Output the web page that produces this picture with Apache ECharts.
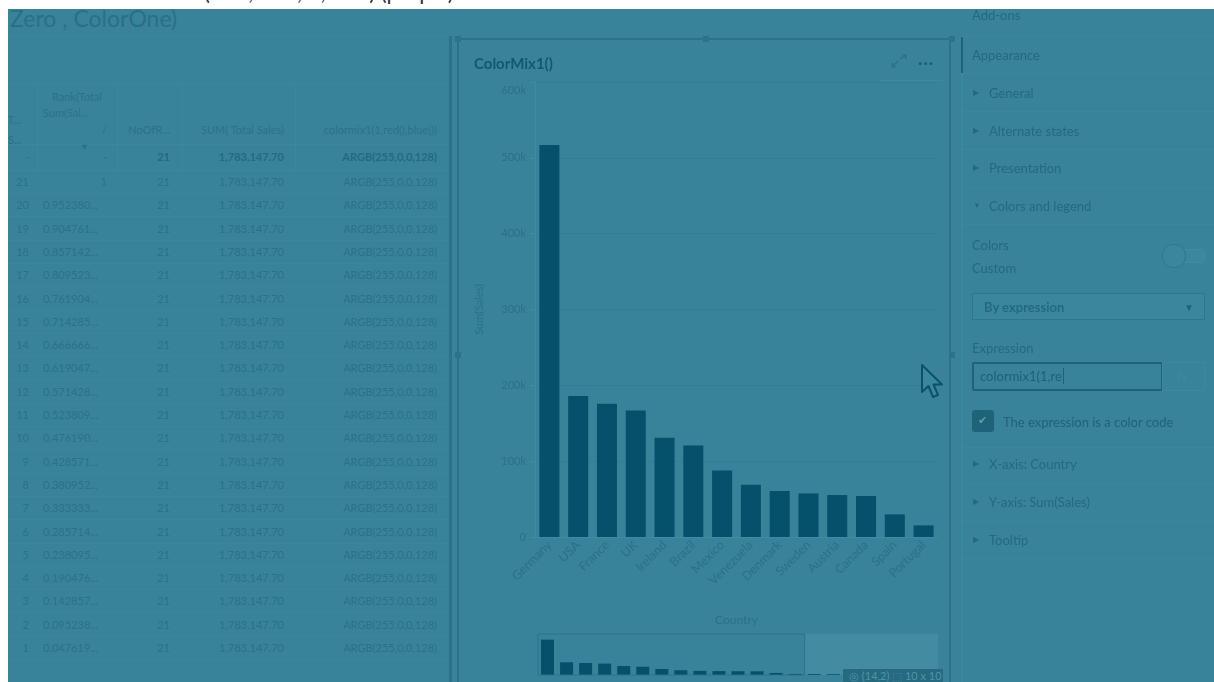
<!DOCTYPE html>
<html>
<head>
<meta charset="utf-8">
<script src="https://cdn.jsdelivr.net/npm/echarts@6/dist/echarts.min.js"></script>
<style>
html,body{margin:0;padding:0;width:1214px;height:682px;overflow:hidden;background:#ffffff;font-family:Lato,"Open Sans",sans-serif;}
.abs{position:absolute;white-space:nowrap;}
#stage{position:absolute;left:8px;top:9px;width:1206px;height:673px;background:#38839a;}
#toptext{left:28px;top:-20px;font-size:22px;line-height:24px;color:#333;}
#bigtitle{left:10px;top:5px;font-size:23px;line-height:26px;color:#2a6f86;}
.tcell{position:absolute;font-size:11px;line-height:14px;color:#2b7189;white-space:nowrap;}
.tb{font-weight:bold;color:#236a81;}
.hline{position:absolute;height:1px;background:#3a879e;}
.vline{position:absolute;width:1px;background:#3a879e;}
#card{position:absolute;left:457px;top:38px;width:494px;height:650px;border:2px solid #2c7389;box-sizing:border-box;}
.handle{position:absolute;width:6px;height:6px;background:#2c7389;}
#chart{position:absolute;left:459px;top:40px;width:492px;height:642px;}
.side{position:absolute;font-size:13px;line-height:16px;color:#24697f;white-space:nowrap;}
.tri{position:absolute;font-size:8px;color:#24697f;}
.sline{position:absolute;left:962px;width:252px;height:1px;background:#3b889e;}
</style>
</head>
<body>
<div id="stage"></div>
<div class="abs" id="toptext">ColorOne = ARGB(255, 128, 0, 128) (purple)</div>
<div class="abs" id="bigtitle">Zero , ColorOne)</div>
<div id="table"></div>
<div id="card"></div>
<div class="handle" style="left:455px;top:36px"></div>
<div class="handle" style="left:703px;top:36px"></div>
<div class="handle" style="left:949px;top:36px"></div>
<div class="handle" style="left:455px;top:352px"></div>
<div class="handle" style="left:949px;top:352px"></div>
<div id="chart"></div>
<!-- header icons of the chart card -->
<svg class="abs" style="left:888px;top:54px" width="22" height="16" viewBox="0 0 22 16">
  <path d="M4 13 L10 7 M4 13 L4 9 M4 13 L8 13 M12 5 L18 1 M18 1 L14 1 M18 1 L18 5" stroke="#2a6f86" stroke-width="1.2" fill="none"/>
</svg>
<div class="abs" style="left:918px;top:52px;font-size:16px;font-weight:bold;color:#1c5f76;letter-spacing:1px">···</div>
<div class="abs" style="left:880px;top:80px;width:66px;height:1px;background:#3d8aa0"></div>
<!-- small badge at the bottom -->
<div class="abs" style="left:843px;top:669px;width:100px;height:16px;background:#27697e;color:#4d95a9;font-size:11px;line-height:14px;padding-left:6px;box-sizing:border-box">◎ (14,2) ⬚ 10 x 10</div>
<!-- cursor -->
<svg class="abs" style="left:918px;top:361px" width="32" height="42" viewBox="0 0 32 42">
  <path d="M4 4 L4 31 L10.5 25 L15 36 L20 34 L15.5 23.5 L24 23.5 Z" stroke="#0d5169" stroke-width="2" fill="#3a869c" stroke-linejoin="round"/>
</svg>
<div id="side"></div>

<script>
// ---------------- data ----------------
const countries = ['Germany','USA','France','UK','Ireland','Brazil','Mexico','Venezuela','Denmark','Sweden','Austria','Canada','Spain','Portugal','Italy','Belgium','Switzerland','Finland','Norway','Poland','Argentina'];
const sales = [517000,186000,175600,166800,131000,120700,87700,68900,60600,57500,55300,54000,29800,15300,12500,11000,9500,8000,6500,5000,3500];
const visibleCount = 14;
const yTickLabels = ['0','100k','200k','300k','400k','500k','600k'];

const tableHeaders = ['T...\nS...','Rank(Total\nSum(Sal...\n/','NoOfR...','SUM( Total Sales)','colormix1(1,red(),blue())'];
const totalsRow = ['-','-','21','1,783,147.70','ARGB(255,0,0,128)'];
const rowRanks = ['21','20','19','18','17','16','15','14','13','12','11','10','9','8','7','6','5','4','3','2','1'];
const rowFractions = ['1','0.952380...','0.904761...','0.857142...','0.809523...','0.761904...','0.714285...','0.666666...','0.619047...','0.571428...','0.523809...','0.476190...','0.428571...','0.380952...','0.333333...','0.285714...','0.238095...','0.190476...','0.142857...','0.095238...','0.047619...'];
const rowCounts = ['21','21','21','21','21','21','21','21','21','21','21','21','21','21','21','21','21','21','21','21','21'];
const rowSums = ['1,783,147.70','1,783,147.70','1,783,147.70','1,783,147.70','1,783,147.70','1,783,147.70','1,783,147.70','1,783,147.70','1,783,147.70','1,783,147.70','1,783,147.70','1,783,147.70','1,783,147.70','1,783,147.70','1,783,147.70','1,783,147.70','1,783,147.70','1,783,147.70','1,783,147.70','1,783,147.70','1,783,147.70'];
const rowColors = ['ARGB(255,0,0,128)','ARGB(255,0,0,128)','ARGB(255,0,0,128)','ARGB(255,0,0,128)','ARGB(255,0,0,128)','ARGB(255,0,0,128)','ARGB(255,0,0,128)','ARGB(255,0,0,128)','ARGB(255,0,0,128)','ARGB(255,0,0,128)','ARGB(255,0,0,128)','ARGB(255,0,0,128)','ARGB(255,0,0,128)','ARGB(255,0,0,128)','ARGB(255,0,0,128)','ARGB(255,0,0,128)','ARGB(255,0,0,128)','ARGB(255,0,0,128)','ARGB(255,0,0,128)','ARGB(255,0,0,128)','ARGB(255,0,0,128)'];

const sideItems = ['General','Alternate states','Presentation'];
const sideAxisItems = ['X-axis: Country','Y-axis: Sum(Sales)','Tooltip'];

// ---------------- table (HTML) ----------------
(function(){
  const t = document.getElementById('table');
  let h = '';
  const cell = (txt, x, y, align, cls) => {
    const style = align === 'right'
      ? `right:${1214 - x}px;top:${y - 7}px;text-align:right`
      : `left:${x}px;top:${y - 7}px`;
    return `<div class="tcell ${cls||''}" style="${style}">${txt}</div>`;
  };
  h += `<div class="hline" style="left:8px;top:35px;width:440px"></div>`;
  h += `<div class="hline" style="left:8px;top:84px;width:440px"></div>`;
  h += `<div class="hline" style="left:8px;top:144px;width:440px"></div>`;
  h += `<div class="hline" style="left:8px;top:170px;width:440px"></div>`;
  [37,117,182,295].forEach(x => { h += `<div class="vline" style="left:${x}px;top:84px;height:86px"></div>`; });
  h += `<div class="abs" style="left:449px;top:36px;width:3px;height:646px;background:#2c7389"></div>`;
  h += cell('T...', 8, 120, 'left');
  h += cell('S...', 8, 140, 'left');
  h += `<div class="tcell" style="left:40px;top:90px;width:74px;text-align:center">Rank(Total</div>`;
  h += cell('Sum(Sal...', 43, 113, 'left');
  h += cell('/', 107, 130, 'right');
  h += cell(tableHeaders[2], 170, 130, 'right');
  h += cell(tableHeaders[3], 284, 130, 'right');
  h += cell(tableHeaders[4], 437, 130, 'right');
  h += `<div class="tcell" style="left:80px;top:140px;font-size:9px">▼</div>`;
  h += cell(totalsRow[0], 29, 157, 'right');
  h += cell(totalsRow[1], 107, 157, 'right');
  h += cell(totalsRow[2], 170, 157, 'right', 'tb');
  h += cell(totalsRow[3], 284, 157, 'right', 'tb');
  h += cell(totalsRow[4], 437, 157, 'right', 'tb');
  for (let i = 0; i < rowRanks.length; i++) {
    const y = 182 + i * 23.3;
    h += cell(rowRanks[i], 29, y, 'right');
    if (i === 0) h += cell(rowFractions[i], 107, y, 'right');
    else h += cell(rowFractions[i], 43, y, 'left');
    h += cell(rowCounts[i], 170, y, 'right');
    h += cell(rowSums[i], 284, y, 'right');
    h += cell(rowColors[i], 437, y, 'right');
    h += `<div class="hline" style="left:8px;top:${Math.round(y + 11)}px;width:440px;background:#3a869c"></div>`;
  }
  t.innerHTML = h;
})();

// ---------------- side panel (HTML) ----------------
(function(){
  const s = document.getElementById('side');
  let h = '';
  h += `<div class="side" style="left:972px;top:7px">Add-ons</div>`;
  [36,73,111,149,187,224,447,483,521,558].forEach(y => { h += `<div class="sline" style="top:${y}px"></div>`; });
  h += `<div class="abs" style="left:961px;top:36px;width:2px;height:646px;background:#3b889e"></div>`;
  h += `<div class="abs" style="left:961px;top:37px;width:2px;height:36px;background:#1f6379"></div>`;
  h += `<div class="side" style="left:972px;top:47px">Appearance</div>`;
  sideItems.forEach((txt, i) => {
    const y = 93 + i * 37.7;
    h += `<div class="tri" style="left:973px;top:${y - 6}px">▶</div>`;
    h += `<div class="side" style="left:989px;top:${y - 8}px">${txt}</div>`;
  });
  h += `<div class="tri" style="left:973px;top:200px">▼</div>`;
  h += `<div class="side" style="left:989px;top:198px">Colors and legend</div>`;
  h += `<div class="side" style="left:972px;top:237px">Colors</div>`;
  h += `<div class="side" style="left:972px;top:260px">Custom</div>`;
  h += `<div class="abs" style="left:1166px;top:249px;width:38px;height:12px;border-radius:6px;border:1px solid #3f8ca2;background:#3b879d"></div>`;
  h += `<div class="abs" style="left:1162px;top:244px;width:22px;height:22px;border-radius:11px;border:1px solid #2f778d;background:#3a869c"></div>`;
  h += `<div class="abs" style="left:972px;top:293px;width:233px;height:27px;border:1px solid #2f768c;box-sizing:border-box;background:#3a869c"></div>`;
  h += `<div class="side" style="left:984px;top:299px;font-weight:bold;color:#236a80">By expression</div>`;
  h += `<div class="side" style="left:1184px;top:299px;font-size:10px;color:#1f6379">▼</div>`;
  h += `<div class="side" style="left:972px;top:340px">Expression</div>`;
  h += `<div class="abs" style="left:972px;top:362px;width:191px;height:29px;border:2px solid #1f6379;border-radius:2px;box-sizing:border-box"></div>`;
  h += `<div class="side" style="left:980px;top:368px;color:#1d6177">colormix1(1,re<span style="border-left:1px solid #1d6177;margin-left:1px"></span></div>`;
  h += `<div class="abs" style="left:1162px;top:362px;width:43px;height:29px;border:1px solid #3c889e;box-sizing:border-box"></div>`;
  h += `<div class="side" style="left:1177px;top:368px;font-style:italic;color:#3d8aa0">fx</div>`;
  h += `<div class="abs" style="left:972px;top:410px;width:22px;height:22px;border-radius:3px;background:#1f6379"></div>`;
  h += `<div class="abs" style="left:978px;top:413px;font-size:11px;color:#5c9db1">✔</div>`;
  h += `<div class="side" style="left:1003px;top:414px;color:#1f6379">The expression is a color code</div>`;
  sideAxisItems.forEach((txt, i) => {
    const y = 464 + i * 37.8;
    h += `<div class="tri" style="left:973px;top:${y - 6}px">▶</div>`;
    h += `<div class="side" style="left:989px;top:${y - 8}px">${txt}</div>`;
  });
  s.innerHTML = h;
})();

// ---------------- chart (ECharts) ----------------
const chart = echarts.init(document.getElementById('chart'), null, {renderer: 'canvas'});
const faint = '#2b7088';
const barColor = '#05506a';
chart.setOption({
  animation: false,
  backgroundColor: 'transparent',
  title: {
    text: 'ColorMix1()', left: 10, top: 12,
    textStyle: {fontFamily: 'Lato', fontSize: 15, fontWeight: 'bold', color: '#145870'}
  },
  grid: [
    {left: 76, top: 42, width: 403, height: 455},
    {left: 79, top: 594, width: 400, height: 41}
  ],
  xAxis: [
    {
      type: 'category', gridIndex: 0, data: countries,
      name: 'Country', nameLocation: 'middle', nameGap: 77,
      nameTextStyle: {fontFamily: 'Lato', fontSize: 12, color: faint},
      axisLine: {show: true, lineStyle: {color: '#3f8ba1'}},
      axisTick: {show: false},
      axisLabel: {rotate: 45, fontFamily: 'Lato', fontSize: 12.5, color: faint, margin: 6, interval: 0}
    },
    {
      type: 'category', gridIndex: 1, data: countries,
      show: false
    }
  ],
  yAxis: [
    {
      type: 'value', gridIndex: 0, min: 0, max: 600000, interval: 100000,
      name: 'Sum(Sales)', nameLocation: 'middle', nameGap: 50, nameRotate: 90,
      nameTextStyle: {fontFamily: 'Lato', fontSize: 11, color: faint},
      axisLine: {show: true, lineStyle: {color: '#3f8ba1'}},
      axisTick: {show: true, length: 5, lineStyle: {color: '#3f8ba1'}},
      axisLabel: {
        fontFamily: 'Lato', fontSize: 11, color: faint, margin: 9,
        formatter: v => {
          const i = Math.round(v / 100000);
          return i === yTickLabels.length - 1 ? '{top|' + yTickLabels[i] + '}' : yTickLabels[i];
        },
        rich: {top: {fontFamily: 'Lato', fontSize: 11, color: faint, padding: [16, 0, 0, 0]}}
      },
      splitLine: {show: true, lineStyle: {color: '#347e94', width: 1}}
    },
    {type: 'value', gridIndex: 1, min: 0, max: 600000, show: false}
  ],
  dataZoom: [
    {type: 'inside', xAxisIndex: 0, startValue: 0, endValue: visibleCount - 1, filterMode: 'filter', zoomLock: true}
  ],
  series: [
    {
      type: 'bar', xAxisIndex: 0, yAxisIndex: 0, data: sales,
      barWidth: 20, itemStyle: {color: barColor}, z: 3
    },
    {
      type: 'bar', xAxisIndex: 1, yAxisIndex: 1, data: sales,
      barWidth: 13, itemStyle: {color: barColor}, z: 3
    }
  ]
});

// mini-chart window and out-of-view shading, placed through the mini axis scale
(function(){
  const px = c => chart.convertToPixel({xAxisIndex: 1}, c);
  const c0 = px(countries[0]);
  const band = px(countries[1]) - c0;
  const left = c0 - band / 2;
  const winR = px(countries[visibleCount - 1]) + band / 2;
  const endR = px(countries[countries.length - 1]) + band / 2;
  const yTop = chart.convertToPixel({yAxisIndex: 1}, 600000);
  const yBot = chart.convertToPixel({yAxisIndex: 1}, 0);
  chart.setOption({
    graphic: [
      {type: 'rect', z: 1, shape: {x: winR, y: yTop, width: endR - winR, height: yBot - yTop},
        style: {fill: 'rgba(120,175,190,0.18)'}},
      {type: 'rect', z: 10, shape: {x: left, y: yTop, width: winR - left, height: yBot - yTop},
        style: {fill: 'none', stroke: '#2c7389', lineWidth: 1}}
    ]
  });
})();
</script>
</body>
</html>
